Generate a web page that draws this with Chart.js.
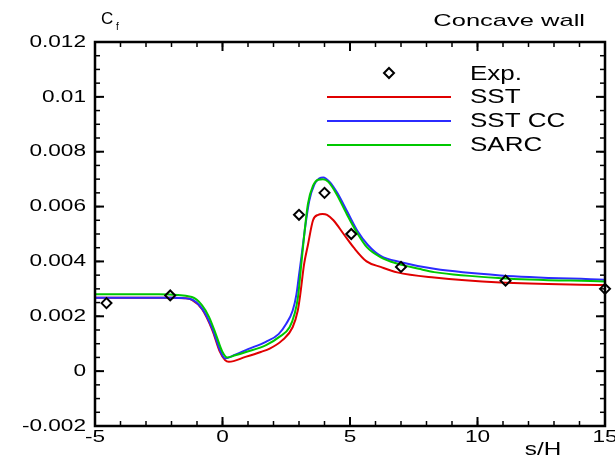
<!DOCTYPE html>
<html>
<head>
  <meta charset="UTF-8" />
  <title>Cf - Concave wall</title>
  <script src="https://cdn.jsdelivr.net/npm/chart.js"></script>
  <style>
    html, body { margin: 0; padding: 0; background: #fff; }
    canvas { display: block; }
  </style>
</head>
<body>
  <canvas id="cfChart" width="615" height="458"></canvas>

  <script>
    // experiment
    const expS  = [-4.55, -2.05, 3.0, 4.0, 5.05, 7.0, 11.1, 15.0];
    const expCf = [0.00248, 0.00276, 0.0057, 0.0065, 0.0050, 0.0038, 0.0033, 0.0030];

    // SST
    const sstS  = [-5, -2, -1.5, -1.2, -0.8, -0.4, -0.1, 0.1, 0.25, 0.9, 1.5, 1.85, 2.35, 2.75, 2.95, 3.05, 3.2, 3.35, 3.55, 3.75, 3.92, 4.1, 4.35, 4.75, 5.15, 5.65, 6.2, 6.85, 8.3, 10.9, 15];
    const sstCf = [0.00268, 0.00268, 0.00266, 0.0026, 0.00226, 0.0015, 0.0007, 0.0004, 0.00034, 0.00052, 0.0007, 0.00082, 0.00113, 0.0016, 0.0022, 0.0028, 0.0039, 0.0046, 0.0055, 0.0057, 0.00573, 0.0057, 0.0055, 0.0050, 0.0045, 0.0040, 0.0038, 0.0036, 0.00341, 0.00323, 0.00314];

    // SST CC
    const sstccS  = [-5, -2, -1.3, -0.8, -0.4, -0.07, 0.1, 0.5, 1.0, 1.7, 2.2, 2.5, 2.75, 2.9, 3.0, 3.1, 3.25, 3.4, 3.6, 3.8, 3.95, 4.2, 4.5, 4.9, 5.3, 5.7, 6.2, 7.0, 8.3, 10.9, 15];
    const sstccCf = [0.00268, 0.00268, 0.00264, 0.00228, 0.00155, 0.0007, 0.00046, 0.0006, 0.0008, 0.00107, 0.00135, 0.00173, 0.0022, 0.0028, 0.0035, 0.0042, 0.0053, 0.0062, 0.0068, 0.00703, 0.00706, 0.0069, 0.0065, 0.0058, 0.0051, 0.0046, 0.0042, 0.00397, 0.00373, 0.00349, 0.00333];

    // SARC
    const sarcS  = [-5, -2.5, -1.2, -0.8, -0.53, -0.27, 0, 0.19, 0.5, 0.92, 1.71, 2.23, 2.63, 2.83, 2.96, 3.09, 3.22, 3.35, 3.55, 3.75, 3.94, 4.15, 4.47, 4.87, 5.26, 5.66, 6.19, 6.85, 7.7, 8.3, 10.9, 15];
    const sarcCf = [0.0028, 0.0028, 0.0027, 0.0024, 0.00198, 0.00137, 0.0007, 0.0005, 0.00058, 0.0007, 0.00095, 0.00125, 0.0016, 0.0021, 0.0027, 0.0039, 0.0051, 0.0061, 0.00676, 0.00698, 0.0070, 0.0069, 0.00646, 0.00573, 0.00507, 0.00452, 0.00416, 0.00392, 0.00373, 0.00361, 0.00339, 0.00327];

    const legendLabels = ["Exp.", "SST", "SST CC", "SARC"];
    const xMajor = 5, xMinor = 1;
    const yMajor = 0.002, yMinor = 0.0005;

    const RED = "#e00000", BLUE = "#2b2bff", GREEN = "#00c800";
    const pts = (xs, ys) => xs.map((x, i) => ({ x: x, y: ys[i] }));

    // text stretched sideways like the original picture
    function txt(ctx, s, x, y, align, font, sx) {
      ctx.save();
      ctx.font = font;
      ctx.textBaseline = "middle";
      ctx.textAlign = "left";
      const w = ctx.measureText(s).width * sx;
      let x0 = x;
      if (align === "right") x0 = x - w;
      else if (align === "center") x0 = x - w / 2;
      ctx.translate(x0, y);
      ctx.scale(sx, 1);
      ctx.fillStyle = "#000";
      ctx.fillText(s, 0, 0);
      ctx.restore();
    }

    function seg(ctx, x1, y1, x2, y2, w) {
      ctx.lineWidth = w;
      ctx.beginPath();
      ctx.moveTo(x1, y1);
      ctx.lineTo(x2, y2);
      ctx.stroke();
    }

    function diamond(ctx, x, y, r) {
      ctx.beginPath();
      ctx.moveTo(x, y - r);
      ctx.lineTo(x + r, y);
      ctx.lineTo(x, y + r);
      ctx.lineTo(x - r, y);
      ctx.closePath();
      ctx.stroke();
    }

    const frameTicks = {
      id: "frameTicks",
      afterDraw(chart) {
        const ctx = chart.ctx;
        const a = chart.chartArea;
        const xs = chart.scales.x, ys = chart.scales.y;
        const tickFont = "17px 'Liberation Sans', Arial, sans-serif";

        ctx.save();
        ctx.strokeStyle = "#000000";

        // minor ticks, pointing inward on all four sides
        const nx = Math.round((xs.max - xs.min) / xMinor);
        for (let i = 0; i <= nx; i++) {
          const p = xs.getPixelForValue(xs.min + i * xMinor);
          seg(ctx, p, a.bottom, p, a.bottom - 5, 1.5);
          seg(ctx, p, a.top, p, a.top + 5, 1.5);
        }
        const ny = Math.round((ys.max - ys.min) / yMinor);
        for (let i = 0; i <= ny; i++) {
          const p = ys.getPixelForValue(ys.min + i * yMinor);
          seg(ctx, a.left, p, a.left + 5, p, 1.5);
          seg(ctx, a.right, p, a.right - 5, p, 1.5);
        }

        // major ticks
        xs.ticks.forEach(t => {
          const p = xs.getPixelForValue(t.value);
          seg(ctx, p, a.bottom, p, a.bottom - 9, 2);
          seg(ctx, p, a.top, p, a.top + 9, 2);
        });
        ys.ticks.forEach(t => {
          const p = ys.getPixelForValue(t.value);
          seg(ctx, a.left, p, a.left + 9, p, 2);
          seg(ctx, a.right, p, a.right - 9, p, 2);
        });

        // frame
        ctx.lineWidth = 2.5;
        ctx.strokeRect(a.left, a.top, a.right - a.left, a.bottom - a.top);

        // tick labels
        xs.ticks.forEach(t => {
          txt(ctx, String(t.value), xs.getPixelForValue(t.value), a.bottom + 11, "center", tickFont, 1.33);
        });
        ys.ticks.forEach(t => {
          const lab = Number(t.value.toFixed(4)).toString();
          txt(ctx, lab, a.left - 9, ys.getPixelForValue(t.value), "right", tickFont, 1.33);
        });

        // axis titles and heading
        txt(ctx, "C", 101, 19, "left", "17px 'Liberation Sans', Arial, sans-serif", 1.0);
        txt(ctx, "f", 116, 27, "left", "10px 'Liberation Sans', Arial, sans-serif", 1.0);
        txt(ctx, "s/H", 543, 450, "center", "18px 'Liberation Sans', Arial, sans-serif", 1.35);
        txt(ctx, "Concave wall", 585, 21, "right", "17px 'Liberation Sans', Arial, sans-serif", 1.5);

        // legend
        const legFont = "20px 'Liberation Sans', Arial, sans-serif";
        ctx.lineWidth = 2;
        diamond(ctx, 389, 73, 5);
        txt(ctx, legendLabels[0], 470, 74, "left", legFont, 1.3);
        const rows = [[RED, 97], [BLUE, 121], [GREEN, 145]];
        rows.forEach((r, i) => {
          ctx.strokeStyle = r[0];
          seg(ctx, 327, r[1], 451, r[1], 2);
          txt(ctx, legendLabels[i + 1], 470, r[1], "left", legFont, 1.3);
        });
        ctx.restore();
      }
    };

    const lineSet = (label, xs, ys, color, order) => ({
      label: label,
      data: pts(xs, ys),
      showLine: true,
      borderColor: color,
      backgroundColor: color,
      borderWidth: 2,
      pointRadius: 0,
      cubicInterpolationMode: "monotone",
      order: order
    });

    new Chart(document.getElementById("cfChart").getContext("2d"), {
      type: "scatter",
      data: {
        datasets: [
          {
            label: legendLabels[0],
            data: pts(expS, expCf),
            pointStyle: "rectRot",
            pointRadius: 5,
            borderWidth: 2,
            borderColor: "#000",
            backgroundColor: "rgba(0,0,0,0)",
            clip: false,
            order: 0
          },
          lineSet(legendLabels[1], sstS, sstCf, RED, 3),
          lineSet(legendLabels[2], sstccS, sstccCf, BLUE, 2),
          lineSet(legendLabels[3], sarcS, sarcCf, GREEN, 1)
        ]
      },
      options: {
        responsive: false,
        animation: false,
        layout: { padding: { top: 42, right: 10, left: 0, bottom: 0 } },
        plugins: {
          legend: { display: false },
          tooltip: { enabled: false }
        },
        scales: {
          x: {
            type: "linear",
            min: -5, max: 15,
            ticks: { display: false, stepSize: xMajor },
            grid: { display: false },
            border: { display: false },
            afterFit: s => { s.height = 32; }
          },
          y: {
            min: -0.002, max: 0.012,
            ticks: { display: false, stepSize: yMajor },
            grid: { display: false },
            border: { display: false },
            afterFit: s => { s.width = 95; }
          }
        }
      },
      plugins: [frameTicks]
    });
  </script>
</body>
</html>
